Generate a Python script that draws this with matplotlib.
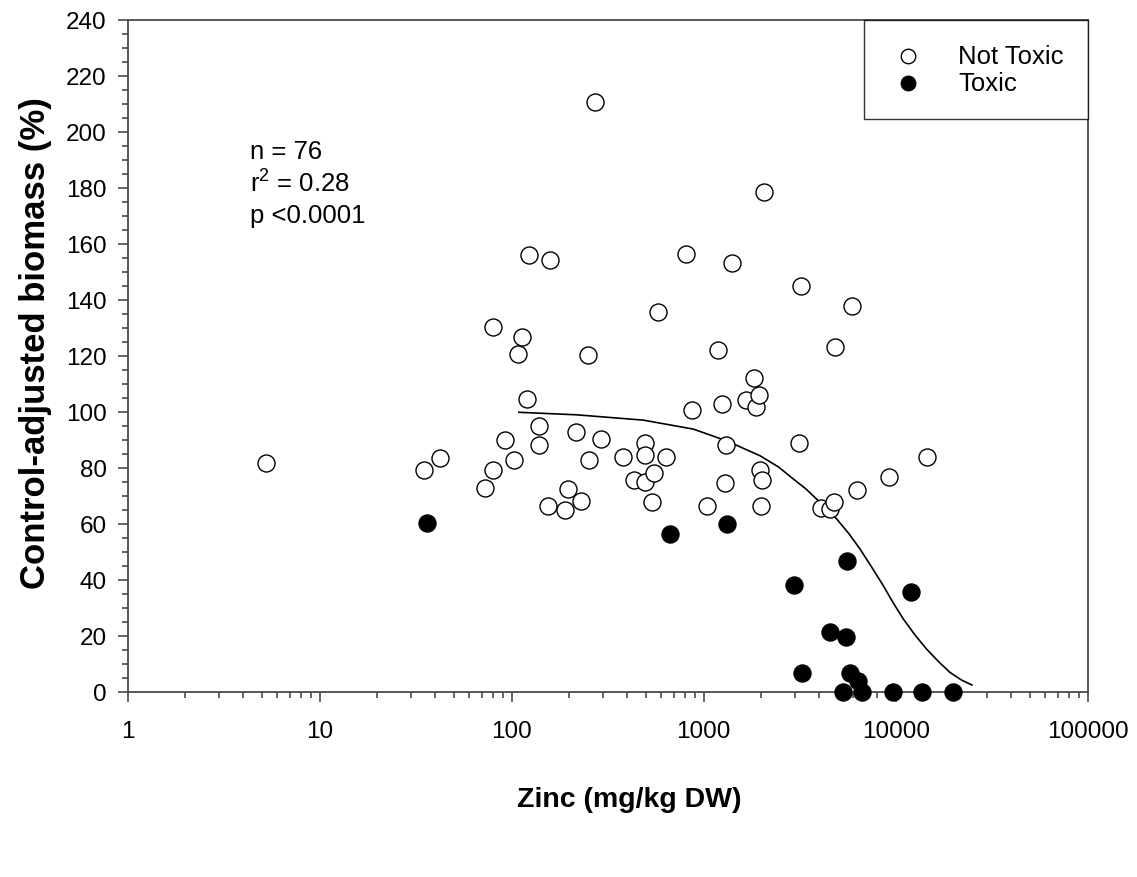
import numpy as np
import matplotlib
matplotlib.use("Agg")
import matplotlib.pyplot as plt
from matplotlib.ticker import AutoMinorLocator, LogLocator, NullFormatter

plt.rcParams['font.family'] = ['Liberation Sans', 'DejaVu Sans']
plt.rcParams['mathtext.fontset'] = 'custom'
plt.rcParams['mathtext.rm'] = 'Liberation Sans'
plt.rcParams['mathtext.it'] = 'Liberation Sans'

# Not toxic samples: zinc (mg/kg DW) and control-adjusted biomass (%)
zinc_ok = [5.25, 34.9, 42.3, 72.3, 79.9, 79.9, 92.3, 103.2, 107.5, 113.1,
           120.2, 123.1, 139.2, 139.2, 154, 158.3, 188.8, 196.5, 217, 230.4,
           249.7, 252.7, 272.5, 292.9, 378.6, 433.5, 496.4, 496.4, 496, 536,
           553, 576, 636, 808.5, 869.4, 1040, 1187, 1250, 1296, 1312,
           1399, 1661, 1821, 1865, 1941, 1957, 2004, 1987, 2061, 3144,
           3224, 4069, 4548, 4771, 4830, 5900, 6310, 9194, 14505]
bio_ok = [81.6, 79.1, 83.4, 72.7, 79.1, 130.2, 89.8, 82.7, 120.5, 126.6,
          104.5, 155.9, 94.8, 88.0, 66.2, 154.1, 64.8, 72.3, 92.7, 68.0,
          120.2, 82.7, 210.5, 90.2, 83.7, 75.5, 88.7, 84.5, 74.8, 67.7,
          78.0, 135.5, 83.7, 156.2, 100.5, 66.2, 122.0, 102.7, 74.5, 88.0,
          153.0, 104.1, 112.0, 101.6, 105.9, 79.1, 75.5, 66.2, 178.4, 88.7,
          144.8, 65.5, 65.2, 67.7, 123.0, 137.7, 72.0, 76.6, 83.7]

# Toxic samples
zinc_tox = [36.1, 670, 1322, 5557, 2943, 12015, 4548, 5510, 3251, 5781,
            6386, 5335, 6699, 9647, 13755, 19810]
bio_tox = [60.1, 56.2, 60.0, 46.8, 38.2, 35.5, 21.2, 19.6, 6.6, 6.8,
           3.7, 0, 0, 0, 0, 0]

# fitted curve, points
curve_x = [109, 218, 485, 883, 1317, 1964, 2450, 2929, 3400, 3877,
           4400, 4929, 5700, 6518, 7500, 8617, 9700, 10956, 12600, 14505,
           16700, 19180, 22000, 24970]
curve_y = [99.8, 98.9, 97.0, 93.8, 89.6, 84.3, 80.3, 76.0, 72.5, 68.8,
           65.3, 61.7, 56.5, 51.0, 44.5, 37.9, 31.8, 26.0, 20.3, 15.2,
           10.8, 6.9, 4.2, 2.4]

x_ticks = [1, 10, 100, 1000, 10000, 100000]
x_labels = ['1', '10', '100', '1000', '10000', '100000']
y_ticks = list(range(0, 241, 20))

fig = plt.figure(figsize=(11.37, 8.78), dpi=100)
ax = fig.add_axes([0.1123, 0.211, 0.8443, 0.7654])

ax.plot(curve_x, curve_y, color='black', lw=1.2, zorder=2)
ax.scatter(zinc_ok, bio_ok, s=150, facecolors='white', edgecolors='black',
           linewidths=1.0, zorder=3, clip_on=False, label='Not Toxic')
ax.scatter(zinc_tox, bio_tox, s=150, facecolors='black', edgecolors='black',
           linewidths=1.0, zorder=4, clip_on=False, label='Toxic')

ax.set_xscale('log')
ax.set_xlim(1, 100000)
ax.set_ylim(0, 240)
ax.set_xticks(x_ticks)
ax.set_xticklabels(x_labels)
ax.xaxis.set_minor_locator(LogLocator(base=10, subs=np.arange(2, 10)))
ax.xaxis.set_minor_formatter(NullFormatter())
ax.set_yticks(y_ticks)
ax.yaxis.set_minor_locator(AutoMinorLocator(4))

spine_col = '#4a4a4a'
for s in ax.spines.values():
    s.set_color(spine_col)
    s.set_linewidth(1.3)
ax.tick_params(which='both', direction='out', colors=spine_col,
               labelcolor='black', width=1.2, labelsize=17.5, top=False, right=False)
ax.tick_params(which='major', length=7)
ax.tick_params(which='minor', length=4.3)
ax.tick_params(axis='x', which='major', pad=13)
ax.tick_params(axis='y', which='major', pad=8)

ax.set_xlabel('Zinc (mg/kg DW)', fontsize=20.5, fontweight='bold', labelpad=32)
ax.set_ylabel('Control-adjusted biomass (%)', fontsize=25, fontweight='bold', labelpad=10)
ax.xaxis.label.set_x(0.5227)
ax.yaxis.label.set_y(0.5196)

ax.text(0.1274, 0.8225, 'n = 76\nr$^2$ = 0.28\np <0.0001', transform=ax.transAxes,
        fontsize=18.5, va='top', ha='left', linespacing=1.3)

leg = ax.legend(loc='upper right', borderaxespad=0, fontsize=18.5, frameon=True,
                fancybox=False, edgecolor='black', handletextpad=1.2,
                borderpad=0.93, labelspacing=0.12, scatterpoints=1,
                handlelength=1.55, markerscale=0.85)
leg.get_frame().set_linewidth(1.0)

fig.savefig('out.png', dpi=100)
